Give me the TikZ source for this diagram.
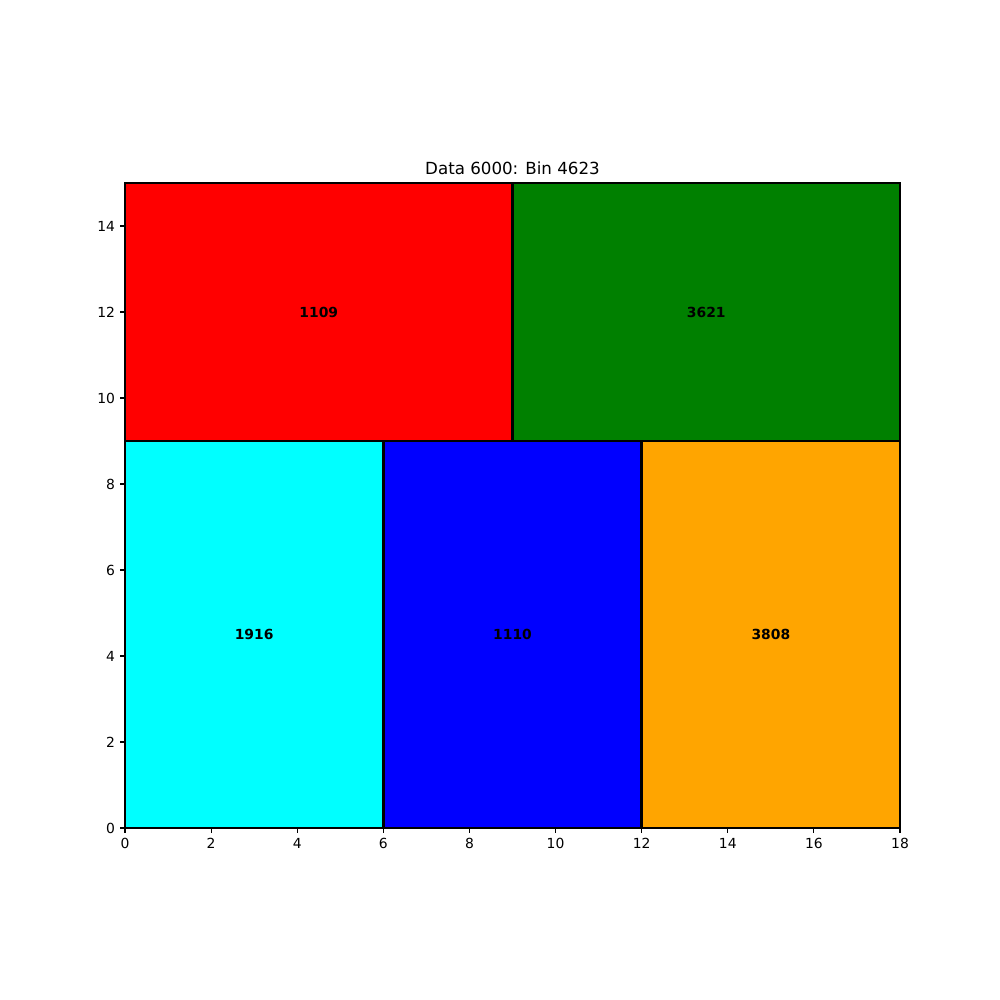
\documentclass[tikz,border=0pt]{standalone}
\usepackage{fontspec}
\setmainfont{DejaVu Sans}
\definecolor{mplorange}{HTML}{FFA500}
\definecolor{mplgreen}{HTML}{008000}
\definecolor{mplcyan}{HTML}{00FFFF}
\definecolor{mplblue}{HTML}{0000FF}
\definecolor{mplred}{HTML}{FF0000}
\begin{document}
\begin{tikzpicture}[x=43.056pt,y=43pt,
  cell/.style={draw=black,line width=2.78pt},
  lbl/.style={font=\fontsize{13.9}{16}\selectfont\bfseries},
  tick/.style={line width=1.1pt},
  ticklbl/.style={font=\fontsize{13.9}{16}\selectfont,inner sep=0pt},
  ttl/.style={font=\fontsize{16.67}{20}\selectfont,inner sep=0pt,anchor=base}]
\useasboundingbox (-2.9032,-4.0) rectangle (20.3224,19.2558);
\fill[white] (-2.9032,-4.0) rectangle (20.3224,19.2558);
% rectangles
\filldraw[cell,fill=mplred] (0,9) rectangle (9,15);
\filldraw[cell,fill=mplgreen] (9,9) rectangle (18,15);
\filldraw[cell,fill=mplcyan] (0,0) rectangle (6,9);
\filldraw[cell,fill=mplblue] (6,0) rectangle (12,9);
\filldraw[cell,fill=mplorange] (12,0) rectangle (18,9);
\node[lbl] (l1109) at (4.5,12) {1109};
\node[lbl] (l3621) at (13.5,12) {3621};
\node[lbl] (l1916) at (3,4.5) {1916};
\node[lbl] (l1110) at (9,4.5) {1110};
\node[lbl] (l3808) at (15,4.5) {3808};
% spines
\draw[tick] (0,0) rectangle (18,15);
% x ticks
\foreach \v in {0,2,...,18}{
  \draw[tick] (\v,0) -- ++(0,-4.9pt);
  \node[ticklbl,anchor=north] (xt\v) at ([yshift=-9.8pt]\v,0) {\v};
}
% y ticks
\foreach \v in {0,2,...,14}{
  \draw[tick] (0,\v) -- ++(-4.9pt,0);
  \node[ticklbl,anchor=east] (yt\v) at ([xshift=-9.8pt]0,\v) {\v};
}
\node[ttl] (title) at ([yshift=8.3pt]9,15) {Data 6000: Bin 4623};
\end{tikzpicture}
\end{document}
